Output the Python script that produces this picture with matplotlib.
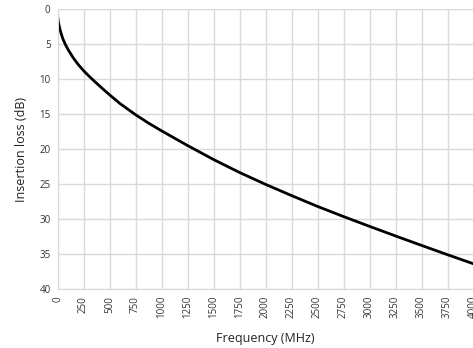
import matplotlib
matplotlib.use("Agg")
import matplotlib.pyplot as plt

# insertion loss vs frequency
freq_mhz = [0, 5, 10, 25, 50, 75, 100, 150, 200, 250, 300, 375, 450, 500, 600, 750, 875,
            1000, 1250, 1500, 1750, 2000, 2250, 2500, 2750, 3000, 3250, 3500, 3750, 4000]
loss_db = [0.9, 1.5, 2.0, 3.0, 4.2, 5.05, 5.75, 6.95, 7.95, 8.8, 9.55, 10.6, 11.6, 12.25, 13.5,
           15.1, 16.3, 17.4, 19.5, 21.5, 23.35, 25.05, 26.65, 28.2, 29.65, 31.05, 32.42,
           33.77, 35.1, 36.4]

x_ticks = list(range(0, 4001, 250))
y_ticks = list(range(0, 41, 5))

plt.rcParams["font.family"] = ["Open Sans", "DejaVu Sans"]

fig = plt.figure(figsize=(4.73, 3.48), dpi=100)
ax = fig.add_axes([57.5 / 473, 1 - 289 / 348, (473.5 - 57.5) / 473, (289 - 9) / 348])

ax.plot(freq_mhz, loss_db, color="black", linewidth=2, solid_capstyle="round",
        solid_joinstyle="round")

ax.set_xlim(0, 4000)
ax.set_ylim(40, 0)
ax.set_xticks(x_ticks)
ax.set_yticks(y_ticks)
ax.set_xticklabels([str(t) for t in x_ticks], rotation=90, fontsize=7, color="#333333")
ax.set_yticklabels([str(t) for t in y_ticks], fontsize=7, color="#333333")
ax.tick_params(length=0, pad=5)

ax.grid(True, color="#d9d9d9", linewidth=1)
ax.set_axisbelow(True)
for s in ax.spines.values():
    s.set_visible(False)
ax.spines["left"].set_visible(True)
ax.spines["left"].set_color("#d9d9d9")
ax.spines["bottom"].set_visible(True)
ax.spines["bottom"].set_color("#d9d9d9")

ax.set_xlabel("Frequency (MHz)", fontsize=9, color="#222222", labelpad=10)
ax.set_ylabel("Insertion loss (dB)", fontsize=9, color="#222222", labelpad=8)

fig.savefig("out.png", dpi=100)
